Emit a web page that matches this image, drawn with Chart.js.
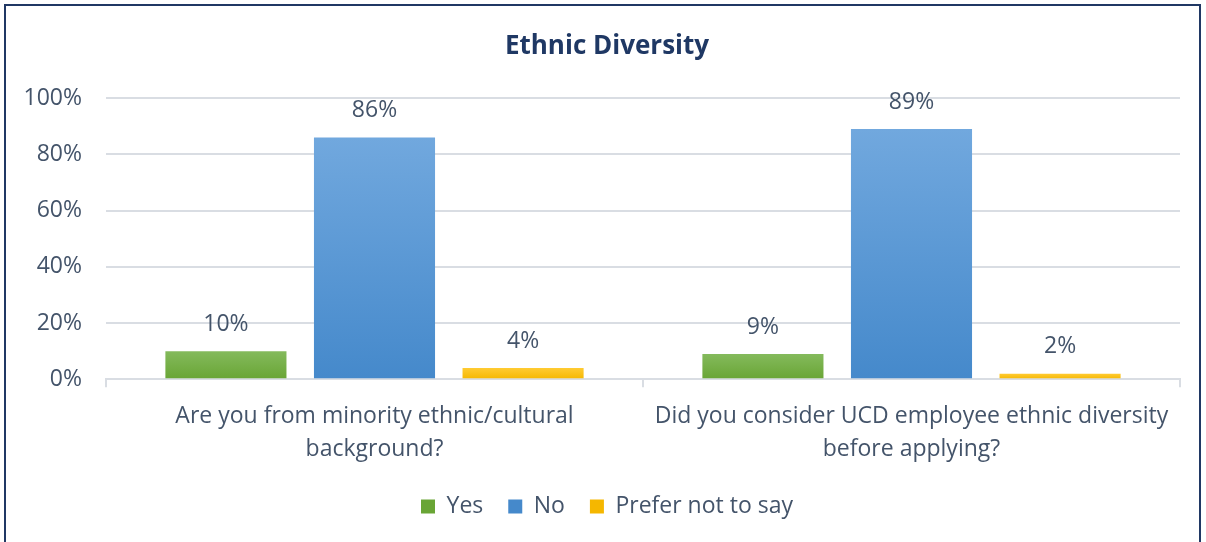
<!DOCTYPE html>
<html><head><meta charset="utf-8">
<script src="https://cdn.jsdelivr.net/npm/chart.js@4"></script>
<style>
html,body{margin:0;padding:0;background:#fff;overflow:hidden}
#wrap{position:relative;width:1206px;height:542px}
#frame{position:absolute;left:4px;top:4px;width:1197px;height:600px;border:2px solid #203864;box-sizing:border-box}
canvas{position:absolute;left:0;top:0}
</style></head>
<body><div id="wrap"><div id="frame"></div><canvas id="c" width="1206" height="542"></canvas></div>
<script>
const categories = [["Are you from minority ethnic/cultural","background?"],["Did you consider UCD employee ethnic diversity","before applying?"]];
const seriesNames = ["Yes","No","Prefer not to say"];
const yesValues = [10, 9];
const noValues = [86, 89];
const preferValues = [4, 2];
const yTicks = [0,20,40,60,80,100];

const FONT = "'Open Sans', sans-serif";
const TXT = '#44546A';
const FS = 23;
const gradStops = {
  Yes: ['#84ba5c','#69a535'],
  No: ['#71a8de','#4589cb'],
  'Prefer not to say': ['#ffcb33','#f5b700']
};
function mkGrad(ctx, top, bottom, name){
  if(!isFinite(top) || !isFinite(bottom) || top===bottom) return gradStops[name][1];
  const g = ctx.createLinearGradient(0, top, 0, bottom);
  g.addColorStop(0, gradStops[name][0]); g.addColorStop(1, gradStops[name][1]);
  return g;
}
function bg(name){
  return (c)=>{
    const ch=c.chart;
    if(!ch.chartArea || !ch.scales || !ch.scales.y || c.type!=='data') return gradStops[name][1];
    const top = ch.scales.y.getPixelForValue(c.raw);
    return mkGrad(ch.ctx, top, ch.chartArea.bottom, name);
  };
}
const valueLabels = {
  id:'valueLabels',
  afterDatasetsDraw(chart){
    const ctx=chart.ctx; ctx.save();
    ctx.font = FS+"px "+FONT; ctx.fillStyle=TXT; ctx.textAlign='center'; ctx.textBaseline='middle';
    chart.data.datasets.forEach((ds,i)=>{
      chart.getDatasetMeta(i).data.forEach((bar,j)=>{
        ctx.fillText(ds.data[j]+'%', bar.x, bar.y-27);
      });
    });
    ctx.restore();
  }
};
new Chart(document.getElementById('c'), {
  type:'bar',
  data:{
    labels: categories,
    datasets:[
      {label:seriesNames[0], data:yesValues, backgroundColor:bg('Yes')},
      {label:seriesNames[1], data:noValues, backgroundColor:bg('No')},
      {label:seriesNames[2], data:preferValues, backgroundColor:bg('Prefer not to say')}
    ]
  },
  options:{
    responsive:false, animation:false,
    categoryPercentage:0.83, barPercentage:0.815,
    layout:{padding:{left:8,right:0,top:0,bottom:14}},
    plugins:{
      title:{display:true,text:'Ethnic Diversity',color:'#1F3864',font:{family:FONT,size:26,weight:'bold'},padding:{top:31,bottom:36}},
      legend:{position:'bottom',labels:{font:{family:FONT,size:FS},color:TXT,boxWidth:14,boxHeight:14,padding:25,
        generateLabels(chart){ return seriesNames.map((n,i)=>({text:n,fillStyle:gradStops[n][1],strokeStyle:'rgba(0,0,0,0)',lineWidth:0,datasetIndex:i,fontColor:TXT})); }}},
      tooltip:{enabled:false}
    },
    scales:{
      y:{min:0,max:100,afterBuildTicks(s){s.ticks=yTicks.map(v=>({value:v}));},
        afterFit(s){ s.width = 98; },
        ticks:{callback:v=>v+'%',font:{family:FONT,size:FS},color:TXT,padding:24},
        grid:{color:'#D9DDE3',lineWidth:2,drawTicks:false},border:{display:false}},
      yRight:{position:'right',min:0,max:100,display:true,
        afterFit(s){ s.width = 26; },
        ticks:{display:false},grid:{display:false,drawOnChartArea:false},border:{display:false}},
      x:{ticks:{font:{family:FONT,size:FS,lineHeight:1.45},color:TXT,padding:12},
        afterFit(s){ s.height -= 8; s.paddingLeft = 0; s.paddingRight = 0; },
        grid:{offset:true,drawOnChartArea:false,color:'#D9DDE3',lineWidth:2,tickLength:8},
        border:{display:true,color:'#D9DDE3',width:2}}
    }
  },
  plugins:[valueLabels]
});
</script></body></html>
